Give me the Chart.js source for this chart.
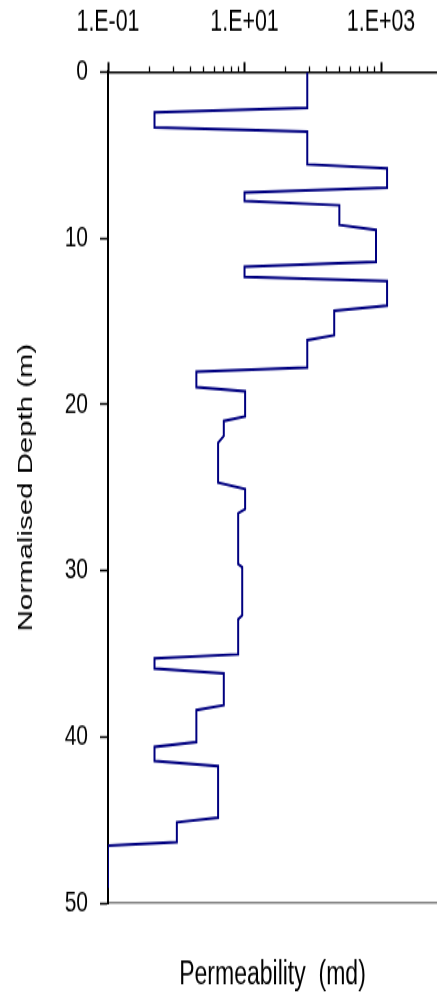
<!DOCTYPE html>
<html>
<head>
<meta charset="utf-8">
<script src="https://cdn.jsdelivr.net/npm/chart.js@4"></script>
<style>
  html, body { margin: 0; padding: 0; background: #fff; }
  /* the figure is drawn into a 437x710 bitmap and shown stretched to 994 px tall */
  #c { display: block; width: 437px; height: 994px; }
</style>
</head>
<body>
<canvas id="c" width="437" height="710" style="width:437px;height:994px"></canvas>
<script>
// Depth profile: top and bottom of each layer (m) with its permeability (md)
const depths = [
  0, 2.15, 2.43, 3.33, 3.59, 5.56, 5.8, 6.96, 7.26, 7.76,
  8.02, 9.2, 9.5, 11.43, 11.71, 12.33, 12.58, 14.06, 14.36, 15.84,
  16.13, 17.79, 18.03, 18.97, 19.21, 20.72, 21.0, 21.9, 22.3, 24.71,
  25.1, 26.3, 26.55, 29.6, 29.8, 32.69, 32.93, 35.04, 35.28, 35.9,
  36.18, 38.1, 38.39, 40.31, 40.6, 41.46, 41.76, 44.87, 45.14, 46.34,
  46.55, 49.1
];
const permeability = [
  83, 83, 0.48, 0.48, 83, 83, 1225, 1225, 10, 10,
  245, 245, 844, 844, 10, 10, 1225, 1225, 206, 206,
  83, 83, 1.97, 1.97, 10.2, 10.2, 4.97, 4.97, 4.1, 4.1,
  10.2, 10.2, 8.07, 8.07, 9.25, 9.25, 8.07, 8.07, 0.48, 0.48,
  4.97, 4.97, 1.97, 1.97, 0.48, 0.48, 4.1, 4.1, 1.02, 1.02,
  0.1, 0.1
];

// Axis ticks
const depthTicks = [0, 10, 20, 30, 40, 50];
const permMajorTicks = [0.1, 10, 1000];
const permMajorLabels = ['1.E-01', '1.E+01', '1.E+03'];
const permMinorTicks = [0.4, 0.9, 1.6, 2.5, 3.6, 4.9, 6.4, 8.1,
                        40, 90, 160, 250, 360, 490, 640, 810];

const FONT = "'Liberation Sans', Arial, Helvetica, sans-serif";

function majorIndex(v) {
  return permMajorTicks.findIndex(m => Math.abs(Math.log10(v) - Math.log10(m)) < 1e-6);
}
function isMajorCtx(ctx) {
  return ctx && ctx.tick ? majorIndex(ctx.tick.value) >= 0 : true;
}

new Chart(document.getElementById('c'), {
  type: 'scatter',
  data: {
    datasets: [{
      data: depths.map((d, i) => ({ x: permeability[i], y: d })),
      showLine: true,
      borderColor: '#000080',
      borderWidth: 2,
      pointRadius: 0,
      pointHoverRadius: 0,
      fill: false,
      tension: 0
    }]
  },
  options: {
    responsive: false,
    animation: false,
    devicePixelRatio: 1,
    events: [],
    layout: { padding: 0 },
    plugins: { legend: { display: false }, tooltip: { enabled: false } },
    scales: {
      x: {
        type: 'logarithmic',
        position: 'top',
        min: 0.1,
        max: 6600,
        afterBuildTicks: s => {
          s.ticks = [...permMajorTicks, ...permMinorTicks]
            .sort((a, b) => a - b)
            .map(v => ({ value: v }));
        },
        afterFit: s => { s.height = 51.4; },
        ticks: {
          autoSkip: false,
          maxRotation: 0,
          padding: 15.5,
          color: '#000',
          font: { family: FONT, size: 21.4 },
          callback: v => {
            const k = majorIndex(v);
            return k >= 0 ? permMajorLabels[k] : '';
          }
        },
        grid: {
          drawOnChartArea: false,
          tickLength: 7,
          tickColor: '#000',
          tickWidth: ctx => isMajorCtx(ctx) ? 2 : 1.3,
          tickBorderDash: ctx => isMajorCtx(ctx) ? [] : [0, 3, 20]
        },
        border: { color: '#000', width: 1.5 }
      },
      x2: {
        type: 'linear',
        position: 'bottom',
        min: 0,
        max: 1,
        afterFit: s => { s.height = 65; },
        ticks: { display: false },
        grid: { display: false },
        border: { color: '#808080', width: 1.5 },
        title: {
          display: true,
          text: 'Permeability  (md)',
          color: '#000',
          font: { family: FONT, size: 23 },
          padding: { top: 1.3, bottom: 0 }
        }
      },
      y: {
        type: 'linear',
        position: 'left',
        reverse: true,
        min: 0,
        max: 50,
        afterBuildTicks: s => { s.ticks = depthTicks.map(v => ({ value: v })); },
        afterFit: s => { s.width = 108; },
        ticks: {
          padding: 12,
          color: '#000',
          font: { family: FONT, size: 21 },
          callback: v => String(v)
        },
        grid: {
          drawOnChartArea: false,
          tickLength: 8,
          tickColor: '#000',
          tickWidth: 1.5
        },
        border: { color: '#000', width: 2 },
        title: {
          display: true,
          text: 'Normalised Depth (m)',
          color: '#000',
          font: { family: FONT, size: 21 },
          padding: { top: 13.2, bottom: 0 }
        }
      }
    }
  }
});
</script>
</body>
</html>
